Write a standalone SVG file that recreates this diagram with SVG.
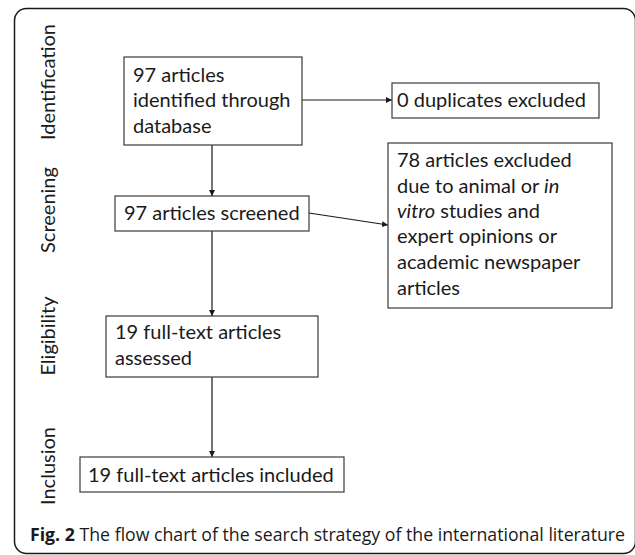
<svg xmlns="http://www.w3.org/2000/svg" width="635" height="555" viewBox="0 0 635 555">
<style>
.box{fill:#fff;stroke:#3a3a3a;stroke-width:1.2}
.t{font-family:Lato,"Liberation Sans",sans-serif;font-size:20px;fill:#1a1a1a}
.side{font-family:Lato,"Liberation Sans",sans-serif;font-size:20px;fill:#1a1a1a;text-anchor:middle}
.c{stroke:#1a1a1a;stroke-width:1.2;fill:none;marker-end:url(#ah)}
.cap{font-family:"Open Sans","Noto Sans",sans-serif;font-size:18px;fill:#1a1a1a}
</style>
<defs>
<marker id="ah" viewBox="0 0 10 10" refX="10" refY="5" markerWidth="6" markerHeight="6" orient="auto" markerUnits="userSpaceOnUse">
<path d="M0,0 L10,5 L0,10 z" fill="#1a1a1a"/>
</marker>
</defs>
<rect x="14.5" y="8.5" width="621" height="545" rx="12" fill="none" stroke="#1a1a1a" stroke-width="1.5"/>
<g id="phases">
<text class="side" transform="translate(55,82) rotate(-90)">Identification</text>
<text class="side" transform="translate(55,210) rotate(-90)">Screening</text>
<text class="side" transform="translate(55,336) rotate(-90)">Eligibility</text>
<text class="side" transform="translate(55,466) rotate(-90)">Inclusion</text>
</g>
<g id="connectors">
<line class="c" x1="302" y1="100" x2="392" y2="100"/>
<line class="c" x1="212" y1="145" x2="212" y2="196"/>
<line class="c" x1="309" y1="213" x2="388" y2="225"/>
<line class="c" x1="212" y1="231" x2="212" y2="316"/>
<line class="c" x1="212" y1="377" x2="212" y2="457"/>
</g>
<g id="n1">
<rect class="box" x="124" y="57" width="178" height="88"/>
<text class="t" x="133" y="82">97 articles</text>
<text class="t" x="133" y="107">identified through</text>
<text class="t" x="133" y="133">database</text>
</g>
<g id="n2">
<rect class="box" x="392" y="83" width="207" height="35"/>
<text class="t" x="397" y="107">0 duplicates excluded</text>
</g>
<g id="n3">
<rect class="box" x="115" y="196" width="194" height="35"/>
<text class="t" x="124" y="220">97 articles screened</text>
</g>
<g id="n4">
<rect class="box" x="388" y="143" width="224" height="165"/>
<text class="t" x="397" y="167">78 articles excluded</text>
<text class="t" x="397" y="193">due to animal or <tspan font-style="italic">in</tspan></text>
<text class="t" x="397" y="218"><tspan font-style="italic">vitro</tspan> studies and</text>
<text class="t" x="397" y="243">expert opinions or</text>
<text class="t" x="397" y="269">academic newspaper</text>
<text class="t" x="397" y="295">articles</text>
</g>
<g id="n5">
<rect class="box" x="106" y="316" width="212" height="61"/>
<text class="t" x="115" y="339">19 full-text articles</text>
<text class="t" x="115" y="365">assessed</text>
</g>
<g id="n6">
<rect class="box" x="80" y="457" width="264" height="35"/>
<text class="t" x="88" y="482">19 full-text articles included</text>
</g>
<text class="cap" x="30" y="541" textLength="595" lengthAdjust="spacingAndGlyphs"><tspan font-weight="bold">Fig. 2</tspan> The flow chart of the search strategy of the international literature</text>
</svg>
